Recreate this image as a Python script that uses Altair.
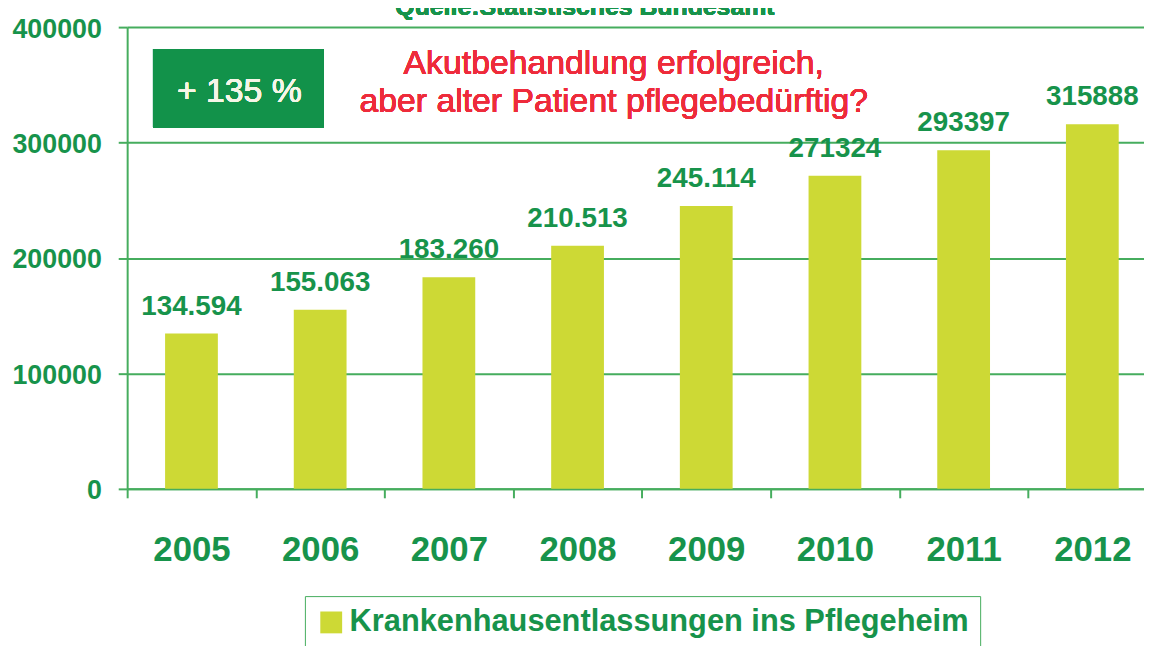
import altair as alt
import pandas as pd

# ---- data ----
years = ["2005", "2006", "2007", "2008", "2009", "2010", "2011", "2012"]
values = [134594, 155063, 183260, 210513, 245114, 271324, 293397, 315888]
value_labels = ["134.594", "155.063", "183.260", "210.513", "245.114", "271324", "293397", "315888"]
series_name = "Krankenhausentlassungen ins Pflegeheim"
y_ticks = [0, 100000, 200000, 300000, 400000]
source_text = "Quelle:Statistisches Bundesamt"
badge_text = "+ 135 %"
note_lines = ["Akutbehandlung erfolgreich,", "aber alter Patient pflegebedürftig?"]

# ---- styles ----
GREEN = "#17934b"
GRID = "#46ad5e"
BAR = "#cdd935"
RED = "#ee2b3b"
BADGE = "#12924a"
FONT = "Liberation Sans"

PLOT_W = 1024
PLOT_H = 465
STEP = 129.6
HALF_STEP = STEP / 2

df = pd.DataFrame({
    "year": years,
    "value": values,
    "label": value_labels,
    "series": [series_name] * len(years),
})

x_enc = alt.X(
    "year:N", sort=years,
    scale=alt.Scale(paddingInner=0.59, paddingOuter=0.2456, align=0.6, round=False),
    axis=alt.Axis(
        title=None, labelAngle=0, labelFont=FONT, labelFontSize=35,
        labelFontWeight="bold", labelColor=GREEN, labelPadding=35,
        tickOffset=-HALF_STEP, labelOffset=HALF_STEP,
        tickSize=9, tickColor=GRID, tickWidth=2,
        domainColor=GRID, domainWidth=2, grid=False,
    ),
)
y_enc = alt.Y(
    "value:Q",
    scale=alt.Scale(domain=[0, 400000], nice=False),
    axis=alt.Axis(
        title=None, values=y_ticks, format="d", labelFont=FONT,
        labelFontSize=27, labelFontWeight="bold", labelColor=GREEN,
        labelPadding=17, labelOffset=2, tickSize=9, tickColor=GRID, tickWidth=2,
        domainColor=GRID, domainWidth=2, grid=True, gridColor=GRID,
        gridWidth=2, gridOpacity=1,
    ),
)

bars = alt.Chart(df).mark_bar().encode(
    x=x_enc,
    y=y_enc,
    color=alt.Color(
        "series:N",
        scale=alt.Scale(range=[BAR]),
        legend=alt.Legend(
            title=None, orient="none", legendX=179, legendY=573,
            symbolType="square", symbolSize=484, symbolStrokeWidth=0,
            symbolOpacity=1, labelFont=FONT, labelFontSize=31,
            labelFontWeight="bold", labelColor=GREEN, labelLimit=0,
            labelOffset=3, padding=11, strokeColor=GRID, fillColor="white",
        ),
    ),
)

labels = alt.Chart(df).mark_text(
    dy=-19, baseline="alphabetic", font=FONT, fontSize=28,
    fontWeight="bold", color=GREEN,
).encode(
    x=alt.X("year:N", sort=years),
    y=alt.Y("value:Q"),
    text="label:N",
)

badge_box = alt.Chart(df).mark_rect(color=BADGE).encode(
    x=alt.value(26), x2=alt.value(198), y=alt.value(22), y2=alt.value(101)
)
badge = alt.Chart(df).mark_text(
    font=FONT, fontSize=34, color="#f6f6e8", align="center", baseline="alphabetic"
).encode(x=alt.value(113), y=alt.value(75), text=alt.value(badge_text))

note = alt.Chart(df).mark_text(
    font=FONT, fontSize=34, color=RED, align="center", baseline="top", lineHeight=38
).encode(x=alt.value(490), y=alt.value(20), text=alt.value(note_lines))

source = alt.Chart(df).mark_text(
    font=FONT, fontSize=25, fontWeight="bold", color=GREEN, align="center",
    baseline="alphabetic",
).encode(x=alt.value(461), y=alt.value(-12), text=alt.value(source_text))

chart = alt.layer(bars, labels, badge_box, badge, note, source).properties(
    width=PLOT_W,
    height=PLOT_H,
    autosize=alt.AutoSizeParams(type="none"),
    padding={"left": 120, "top": 17, "right": 0, "bottom": 156},
    background="white",
).configure_view(stroke=None)

chart.save("out.html", embed_options={"renderer": "svg", "actions": False})
